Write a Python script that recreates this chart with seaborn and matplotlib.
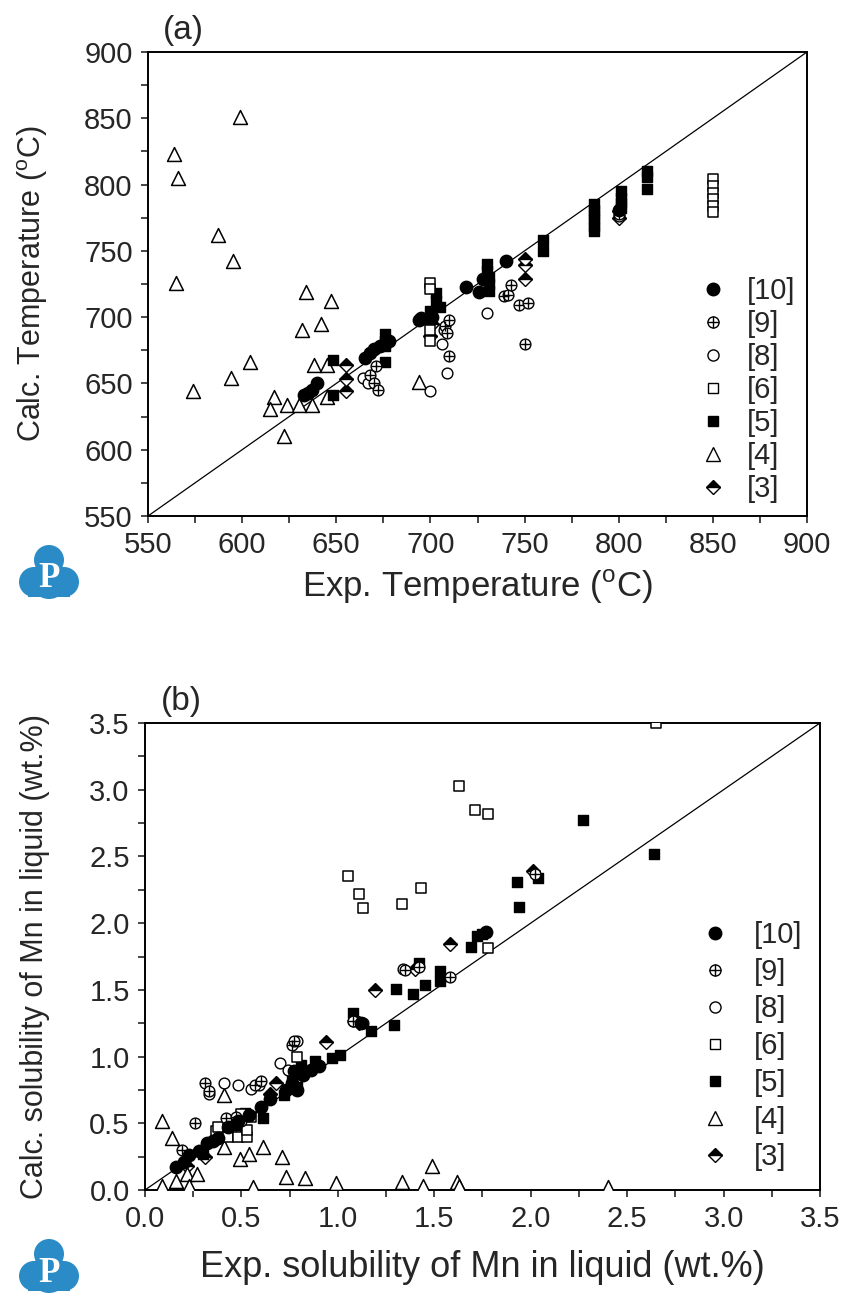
import matplotlib
matplotlib.use("Agg")
import matplotlib.pyplot as plt
import seaborn as sns
from matplotlib.lines import Line2D
from matplotlib.legend_handler import HandlerTuple
from matplotlib.patches import Circle, Rectangle

sns.set_style("ticks")
plt.rcParams['font.family'] = ['Liberation Sans', 'DejaVu Sans']
plt.rcParams['mathtext.fontset'] = 'custom'
plt.rcParams['mathtext.rm'] = 'Liberation Sans'

# ---- panel (a): temperature, exp vs calc (degC) ----
a10_x = [633, 635, 637, 640, 665, 668, 670, 673, 676, 678, 694, 695, 701, 719, 726, 728, 740, 800]
a10_y = [641, 643, 645, 650, 669, 673, 676, 678, 680, 682, 698, 699, 700, 723, 719, 729, 742, 781]
a9_x = [668, 670, 671, 672, 708, 709, 710, 710, 739, 741, 743, 747, 752, 750, 800]
a9_y = [656, 650, 663, 645, 693, 688, 698, 671, 716, 717, 724, 709, 711, 680, 778]
a8_x = [664, 667, 700, 706, 707, 709, 730, 800]
a8_y = [654, 650, 644, 680, 690, 658, 703, 776]
a6_x = [700, 700, 700, 700, 850, 850, 850, 850, 850, 850]
a6_y = [726, 721, 690, 682, 804, 799, 794, 789, 784, 779]
a5_x = [648, 648, 676, 676, 676, 676, 700, 703, 703, 705, 730, 730, 731, 731, 731, 760, 760,
        787, 787, 787, 787, 787, 787, 801, 801, 801, 801, 815, 815, 815]
a5_y = [668, 641, 687, 682, 678, 666, 705, 718, 712, 708, 740, 735, 730, 725, 720, 758, 750,
        785, 781, 777, 773, 769, 765, 795, 790, 786, 782, 810, 806, 797]
a4_x = [599, 564, 566, 587, 595, 565, 634, 647, 642, 632, 604, 594, 574, 617, 615, 624, 630,
        637, 638, 645, 645, 622, 694]
a4_y = [851, 823, 805, 762, 742, 726, 719, 712, 695, 690, 666, 654, 644, 640, 631, 634, 634,
        634, 664, 664, 640, 610, 651]
a3_x = [655, 655, 655, 700, 701, 750, 750, 750, 800, 800]
a3_y = [664, 653, 644, 686, 695, 744, 739, 729, 780, 775]

# ---- panel (b): Mn solubility in liquid (wt.%) ----
b10_x = [0.16, 0.20, 0.23, 0.28, 0.32, 0.35, 0.38, 0.43, 0.48, 0.54, 0.60, 0.65, 0.73, 0.76,
         0.77, 0.79, 0.82, 0.86, 0.90, 1.12, 1.77]
b10_y = [0.17, 0.21, 0.26, 0.29, 0.35, 0.37, 0.39, 0.47, 0.52, 0.56, 0.62, 0.68, 0.75, 0.80,
         0.89, 0.75, 0.86, 0.90, 0.93, 1.25, 1.93]
b9_x = [0.19, 0.26, 0.31, 0.33, 0.42, 0.47, 0.50, 0.57, 0.60, 0.76, 0.77, 1.08, 1.13, 1.35,
        1.42, 1.58, 2.02]
b9_y = [0.30, 0.50, 0.80, 0.74, 0.54, 0.55, 0.52, 0.79, 0.82, 1.09, 1.12, 1.27, 1.25, 1.65,
        1.67, 1.60, 2.37]
b8_x = [0.33, 0.41, 0.48, 0.55, 0.59, 0.70, 0.74, 0.79, 1.08, 1.34]
b8_y = [0.72, 0.80, 0.79, 0.76, 0.79, 0.95, 0.90, 1.12, 1.27, 1.66]
b6_x = [0.37, 0.38, 0.43, 0.48, 0.53, 0.53, 0.50, 0.55, 0.79, 1.05, 1.11, 1.13, 1.33, 1.43,
        1.63, 1.71, 1.78, 1.78, 2.65]
b6_y = [0.44, 0.47, 0.40, 0.40, 0.40, 0.45, 0.57, 0.55, 1.00, 2.35, 2.22, 2.11, 2.14, 2.26,
        3.03, 2.85, 2.82, 1.81, 3.50]
b5_x = [0.30, 0.47, 0.52, 0.61, 0.72, 0.76, 0.79, 0.81, 0.88, 0.97, 1.01, 1.08, 1.17, 1.29,
        1.30, 1.39, 1.42, 1.45, 1.53, 1.53, 1.69, 1.72, 1.75, 1.93, 1.94, 2.04, 2.27, 2.64]
b5_y = [0.27, 0.49, 0.58, 0.54, 0.71, 0.85, 0.77, 0.94, 0.97, 0.99, 1.01, 1.33, 1.19, 1.24,
        1.51, 1.47, 1.70, 1.54, 1.64, 1.57, 1.82, 1.90, 1.92, 2.31, 2.12, 2.34, 2.77, 2.52]
b4_x = [0.09, 0.14, 0.09, 0.16, 0.22, 0.27, 0.23, 0.41, 0.41, 0.48, 0.49, 0.54, 0.61, 0.56,
        0.71, 0.73, 0.83, 0.99, 1.33, 1.44, 1.49, 1.62, 1.63, 2.40]
b4_y = [0.52, 0.39, 0.03, 0.07, 0.12, 0.12, 0.03, 0.32, 0.71, 0.42, 0.23, 0.27, 0.32, 0.02,
        0.25, 0.10, 0.09, 0.05, 0.06, 0.03, 0.18, 0.06, 0.03, 0.02]
b3_x = [0.22, 0.31, 0.65, 0.68, 0.94, 1.11, 1.19, 1.40, 1.58, 2.01]
b3_y = [0.18, 0.25, 0.72, 0.80, 1.11, 1.25, 1.50, 1.66, 1.84, 2.39]

labels = ['[10]', '[9]', '[8]', '[6]', '[5]', '[4]', '[3]']


def draw_points(ax, d):
    ax.plot(d['[3]'][0], d['[3]'][1], ls='none', marker='D', ms=7.5, fillstyle='top',
            mfc='black', mfcalt='white', mec='black', mew=1, zorder=3)
    sns.scatterplot(x=d['[4]'][0], y=d['[4]'][1], ax=ax, marker='^', s=100, color='white',
                    edgecolor='black', linewidth=1.1, zorder=3)
    sns.scatterplot(x=d['[5]'][0], y=d['[5]'][1], ax=ax, marker='s', s=55, color='black',
                    edgecolor='black', linewidth=1, zorder=3)
    sns.scatterplot(x=d['[6]'][0], y=d['[6]'][1], ax=ax, marker='s', s=55, color='white',
                    edgecolor='black', linewidth=1.1, zorder=3)
    sns.scatterplot(x=d['[8]'][0], y=d['[8]'][1], ax=ax, marker='o', s=60, color='white',
                    edgecolor='black', linewidth=1, zorder=3)
    sns.scatterplot(x=d['[9]'][0], y=d['[9]'][1], ax=ax, marker='o', s=60, color='white',
                    edgecolor='black', linewidth=1, zorder=3)
    sns.scatterplot(x=d['[9]'][0], y=d['[9]'][1], ax=ax, marker='+', s=60, color='black',
                    linewidth=1, zorder=3)
    sns.scatterplot(x=d['[10]'][0], y=d['[10]'][1], ax=ax, marker='o', s=80, color='black',
                    edgecolor='black', linewidth=1, zorder=3)


def legend_handles():
    kw = dict(ls='none', mec='black', mew=1)
    return [
        Line2D([], [], marker='o', ms=9, mfc='black', **kw),
        (Line2D([], [], marker='o', ms=8, mfc='white', **kw),
         Line2D([], [], marker='+', ms=8, color='black', ls='none', mew=1)),
        Line2D([], [], marker='o', ms=8, mfc='white', **kw),
        Line2D([], [], marker='s', ms=7, mfc='white', **kw),
        Line2D([], [], marker='s', ms=7, mfc='black', **kw),
        Line2D([], [], marker='^', ms=9.5, mfc='white', **kw),
        Line2D([], [], marker='D', ms=7.5, fillstyle='top', mfc='black', mfcalt='white', **kw),
    ]


def style_axes(ax, lo, hi, major, minor):
    ax.set_xlim(lo, hi)
    ax.set_ylim(lo, hi)
    ax.plot([lo, hi], [lo, hi], color='black', lw=0.9, zorder=2)
    ax.xaxis.set_major_locator(plt.MultipleLocator(major))
    ax.yaxis.set_major_locator(plt.MultipleLocator(major))
    ax.xaxis.set_minor_locator(plt.MultipleLocator(minor))
    ax.yaxis.set_minor_locator(plt.MultipleLocator(minor))
    ax.tick_params(which='both', direction='out', length=5, width=1.2,
                   top=False, right=False, labelsize=21, pad=6)
    for s in ax.spines.values():
        s.set_linewidth(1.4)
        s.set_color('black')


def draw_logo(fig, x0, y0):
    # small blue cloud badge with a white "P", placed in pixel coords (top-left origin)
    W, H = 843, 1304
    lax = fig.add_axes([x0 / W, 1 - (y0 + 70) / H, 70 / W, 70 / H])
    lax.set_xlim(0, 70)
    lax.set_ylim(70, 0)
    lax.axis('off')
    c = '#2a8bc6'
    for cx, cy, r in [(35, 18, 15), (20, 40, 15), (50, 40, 15), (35, 38, 19)]:
        lax.add_patch(Circle((cx, cy), r, color=c, lw=0))
    lax.add_patch(Rectangle((14, 40), 42, 15, color=c, lw=0))
    lax.text(35, 37, 'P', color='white', ha='center', va='center', fontsize=25,
             fontweight='bold', family='Liberation Serif')


fig = plt.figure(figsize=(8.43, 13.04), dpi=100)

data_a = {'[10]': (a10_x, a10_y), '[9]': (a9_x, a9_y), '[8]': (a8_x, a8_y), '[6]': (a6_x, a6_y),
          '[5]': (a5_x, a5_y), '[4]': (a4_x, a4_y), '[3]': (a3_x, a3_y)}
data_b = {'[10]': (b10_x, b10_y), '[9]': (b9_x, b9_y), '[8]': (b8_x, b8_y), '[6]': (b6_x, b6_y),
          '[5]': (b5_x, b5_y), '[4]': (b4_x, b4_y), '[3]': (b3_x, b3_y)}

hmap = {tuple: HandlerTuple(ndivide=1)}

ax1 = fig.add_axes([148 / 843, 1 - 516 / 1304, 659 / 843, 464 / 1304])
style_axes(ax1, 550, 900, 50, 25)
draw_points(ax1, data_a)
ax1.set_xlabel(r'Exp. Temperature ($^{\rm o}$C)', fontsize=25, labelpad=6)
ax1.set_ylabel(r'Calc. Temperature ($^{\rm o}$C)', fontsize=22)
ax1.yaxis.set_label_coords(-0.148, 0.5)
ax1.text(0.023, 1.012, '(a)', transform=ax1.transAxes, fontsize=24, va='bottom')
ax1.legend(legend_handles(), labels, loc='upper left', bbox_to_anchor=(0.838, 0.515),
           frameon=False, fontsize=21, handlelength=0.9, handletextpad=0.7,
           labelspacing=0.17, borderpad=0, borderaxespad=0, handler_map=hmap)

ax2 = fig.add_axes([145 / 843, 1 - 1190 / 1304, 675 / 843, 467 / 1304])
style_axes(ax2, 0, 3.5, 0.5, 0.25)
ax2.xaxis.set_major_formatter(plt.FuncFormatter(lambda v, _: f'{v:.1f}'))
ax2.yaxis.set_major_formatter(plt.FuncFormatter(lambda v, _: f'{v:.1f}'))
draw_points(ax2, data_b)
ax2.set_xlabel('Exp. solubility of Mn in liquid (wt.%)', fontsize=26, labelpad=12)
ax2.set_ylabel('Calc. solubility of Mn in liquid (wt.%)', fontsize=22)
ax2.yaxis.set_label_coords(-0.14, 0.5)
ax2.text(0.023, 1.012, '(b)', transform=ax2.transAxes, fontsize=24, va='bottom')
ax2.legend(legend_handles(), labels, loc='upper left', bbox_to_anchor=(0.825, 0.576),
           frameon=False, fontsize=21, handlelength=0.9, handletextpad=0.9,
           labelspacing=0.31, borderpad=0, borderaxespad=0, handler_map=hmap)

draw_logo(fig, 14, 542)
draw_logo(fig, 14, 1236)

fig.savefig('out.png', dpi=100)
